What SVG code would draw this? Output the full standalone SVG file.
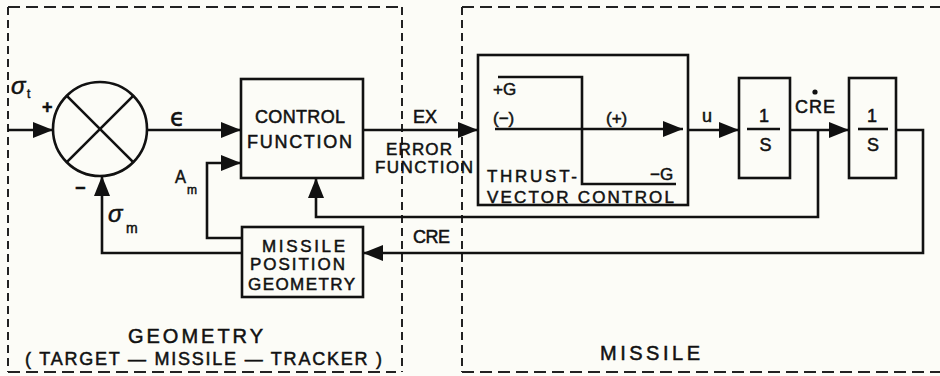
<svg xmlns="http://www.w3.org/2000/svg" width="940" height="376" viewBox="0 0 940 376">
<defs>
<marker id="ah" markerUnits="userSpaceOnUse" markerWidth="22" markerHeight="18" refX="20" refY="8" orient="auto">
<path d="M0,0 L20,8 L0,16 Z" fill="#111"/>
</marker>
<style>
.frame{fill:none;stroke:#222;stroke-width:2}
.fh{stroke-dasharray:12 6}
.fv{stroke-dasharray:8 5}
.box{fill:none;stroke:#111;stroke-width:2.6}
.ln{fill:none;stroke:#111;stroke-width:2.6}
.arr{marker-end:url(#ah)}
text{font-family:"Liberation Sans",Arial,sans-serif;fill:#111;stroke:#111;stroke-width:0.5}
.t{font-size:18px}
.s{font-size:17px}
.big{font-size:20px}
.gr{font-style:italic;font-size:24px}
</style>
</defs>
<rect width="940" height="376" fill="#fcfcf7"/>

<g id="frames">
<line class="frame fv" x1="8" y1="7" x2="8" y2="372"/>
<line class="frame fh" x1="8" y1="7" x2="402" y2="7"/>
<line class="frame fv" x1="402" y1="7" x2="402" y2="372"/>
<line class="frame fh" x1="8" y1="372" x2="396" y2="372"/>
<line class="frame fh" x1="462" y1="7" x2="940" y2="7"/>
<line class="frame fv" x1="462" y1="7" x2="462" y2="372"/>
<line class="frame fh" x1="462" y1="372" x2="940" y2="372"/>
<text class="big" x="128" y="343" textLength="135" lengthAdjust="spacing">GEOMETRY</text>
<text class="t" x="25" y="365" textLength="357" lengthAdjust="spacing">( TARGET — MISSILE — TRACKER )</text>
<text class="big" x="600" y="360" textLength="100" lengthAdjust="spacing">MISSILE</text>
</g>

<g id="sum">
<circle class="box" cx="100" cy="129" r="47"/>
<line class="ln" x1="66.8" y1="95.8" x2="133.2" y2="162.2"/>
<line class="ln" x1="133.2" y1="95.8" x2="66.8" y2="162.2"/>
</g>

<g id="control-function">
<rect class="box" x="241" y="79" width="122" height="99"/>
<text class="t" x="255" y="123" textLength="90" lengthAdjust="spacing">CONTROL</text>
<text class="t" x="247" y="148" textLength="105" lengthAdjust="spacing">FUNCTION</text>
</g>

<g id="missile-position-geometry">
<rect class="box" x="242" y="227" width="121" height="70"/>
<text class="s" x="262" y="252" textLength="83" lengthAdjust="spacing">MISSILE</text>
<text class="s" x="250" y="270" textLength="95" lengthAdjust="spacing">POSITION</text>
<text class="s" x="248" y="290" textLength="107" lengthAdjust="spacing">GEOMETRY</text>
</g>

<g id="thrust-vector-control">
<rect class="box" x="478" y="55" width="210" height="150"/>
<polyline class="ln" points="498,77 582,77 582,184 676,184"/>
<line class="ln arr" x1="495" y1="129" x2="683" y2="129"/>
<text class="s" x="493" y="95">+G</text>
<text class="s" x="493" y="124">(−)</text>
<text class="s" x="606" y="124">(+)</text>
<text class="s" x="650" y="180">−G</text>
<text class="s" x="487" y="182" textLength="90" lengthAdjust="spacing">THRUST-</text>
<text class="s" x="487" y="203" textLength="187" lengthAdjust="spacing">VECTOR CONTROL</text>
</g>

<g id="integrator-1">
<rect class="box" x="739" y="78" width="51" height="100"/>
<line class="ln" x1="747" y1="129" x2="780" y2="129"/>
<text class="t" x="764" y="122" text-anchor="middle">1</text>
<text class="t" x="765.5" y="151" text-anchor="middle">S</text>
</g>

<g id="integrator-2">
<rect class="box" x="849" y="78" width="47" height="100"/>
<line class="ln" x1="858" y1="129" x2="888" y2="129"/>
<text class="t" x="872" y="122" text-anchor="middle">1</text>
<text class="t" x="873" y="151" text-anchor="middle">S</text>
</g>

<g id="connectors">
<line class="ln arr" x1="8" y1="130" x2="53" y2="130"/>
<line class="ln arr" x1="147" y1="130" x2="241" y2="130"/>
<line class="ln arr" x1="363" y1="130" x2="478" y2="130"/>
<line class="ln arr" x1="688" y1="130" x2="739" y2="130"/>
<line class="ln arr" x1="790" y1="130" x2="849" y2="130"/>
<polyline class="ln arr" points="896,130 923,130 923,253 363,253"/>
<polyline class="ln arr" points="818,130 818,217 316,217 316,178"/>
<polyline class="ln arr" points="242,253 102,253 102,176"/>
<polyline class="ln arr" points="242,238 207,238 207,163 241,163"/>
</g>

<g id="labels">
<text class="gr" x="11" y="94">σ</text>
<text style="font-size:12px" x="27" y="98">t</text>
<text class="t" x="42" y="113" style="font-weight:bold">+</text>
<text style="font-size:24px;font-family:'DejaVu Sans',sans-serif" x="170" y="126">ϵ</text>
<text class="t" x="75" y="194" style="font-weight:bold">−</text>
<text class="gr" x="108" y="222">σ</text>
<text style="font-size:14px" x="126" y="233">m</text>
<text class="t" x="175" y="183" textLength="11" lengthAdjust="spacingAndGlyphs">A</text>
<text style="font-size:12px" x="187" y="194">m</text>
<text class="t" x="413" y="123" textLength="24" lengthAdjust="spacing">EX</text>
<text class="s" x="386" y="155" textLength="66" lengthAdjust="spacing">ERROR</text>
<text class="s" x="375" y="173" textLength="98" lengthAdjust="spacing">FUNCTION</text>
<text class="t" x="413" y="243" textLength="37" lengthAdjust="spacing">CRE</text>
<text class="t" x="702" y="122">u</text>
<text class="t" x="795" y="113" textLength="40" lengthAdjust="spacing">CRE</text>
<circle cx="815" cy="92" r="2.6" fill="#111"/>
</g>
</svg>
